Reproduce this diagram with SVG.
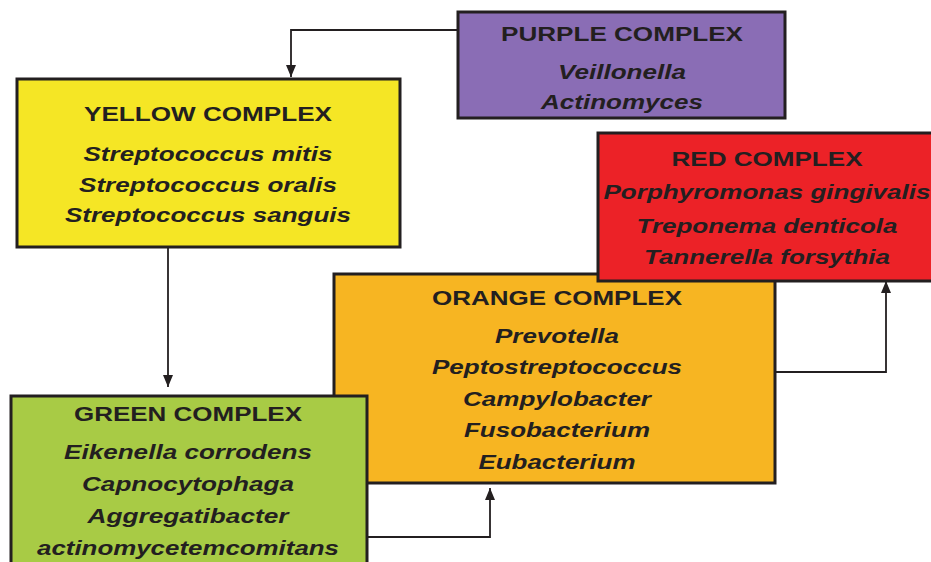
<svg xmlns="http://www.w3.org/2000/svg" width="931" height="562" viewBox="0 0 931 562">
<style>
.box{stroke:#231f20;stroke-width:3}
.t{font-family:"Liberation Sans",Arial,sans-serif;font-weight:bold;font-size:21px;text-anchor:middle;fill:#231f20}
.i{font-style:italic}
.c{fill:none;stroke:#231f20;stroke-width:1.8}
</style>
<defs>
<marker id="ah" viewBox="0 0 12 10" refX="12" refY="5" markerWidth="12" markerHeight="10" orient="auto" markerUnits="userSpaceOnUse">
<path d="M0,0 L12,5 L0,10 z" fill="#231f20"/>
</marker>
</defs>
<rect width="931" height="562" fill="#ffffff"/>
<g id="connectors">
<path class="c" d="M457,30 H291 V77" marker-end="url(#ah)"/>
<path class="c" d="M168,247 V387" marker-end="url(#ah)"/>
<path class="c" d="M367,537 H490 V488" marker-end="url(#ah)"/>
<path class="c" d="M775,372 H886 V281" marker-end="url(#ah)"/>
</g>
<g id="purple">
<rect class="box" x="458" y="12" width="327" height="106" fill="#8a6db5"/>
<text class="t" x="622" y="41" textLength="242" lengthAdjust="spacingAndGlyphs">PURPLE COMPLEX</text>
<text class="t i" x="622" y="79" textLength="128" lengthAdjust="spacingAndGlyphs">Veillonella</text>
<text class="t i" x="622" y="109" textLength="162" lengthAdjust="spacingAndGlyphs">Actinomyces</text>
</g>
<g id="yellow">
<rect class="box" x="17" y="79" width="383" height="168" fill="#f5e625"/>
<text class="t" x="208" y="121" textLength="248" lengthAdjust="spacingAndGlyphs">YELLOW COMPLEX</text>
<text class="t i" x="208" y="161" textLength="249" lengthAdjust="spacingAndGlyphs">Streptococcus mitis</text>
<text class="t i" x="208" y="192" textLength="258" lengthAdjust="spacingAndGlyphs">Streptococcus oralis</text>
<text class="t i" x="208" y="222" textLength="286" lengthAdjust="spacingAndGlyphs">Streptococcus sanguis</text>
</g>
<g id="orange">
<rect class="box" x="334" y="274" width="441" height="209" fill="#f7b522"/>
<text class="t" x="557" y="305" textLength="250" lengthAdjust="spacingAndGlyphs">ORANGE COMPLEX</text>
<text class="t i" x="557" y="343" textLength="124" lengthAdjust="spacingAndGlyphs">Prevotella</text>
<text class="t i" x="557" y="374" textLength="250" lengthAdjust="spacingAndGlyphs">Peptostreptococcus</text>
<text class="t i" x="557" y="406" textLength="188" lengthAdjust="spacingAndGlyphs">Campylobacter</text>
<text class="t i" x="557" y="437" textLength="186" lengthAdjust="spacingAndGlyphs">Fusobacterium</text>
<text class="t i" x="557" y="469" textLength="157" lengthAdjust="spacingAndGlyphs">Eubacterium</text>
</g>
<g id="red">
<rect class="box" x="598" y="133" width="340" height="148" fill="#ec2227"/>
<text class="t" x="767" y="166" textLength="191" lengthAdjust="spacingAndGlyphs">RED COMPLEX</text>
<text class="t i" x="767" y="199" textLength="327" lengthAdjust="spacingAndGlyphs">Porphyromonas gingivalis</text>
<text class="t i" x="767" y="233" textLength="261" lengthAdjust="spacingAndGlyphs">Treponema denticola</text>
<text class="t i" x="767" y="264" textLength="246" lengthAdjust="spacingAndGlyphs">Tannerella forsythia</text>
</g>
<g id="green">
<rect class="box" x="11" y="396" width="356" height="180" fill="#a8cb45"/>
<text class="t" x="188" y="421" textLength="228" lengthAdjust="spacingAndGlyphs">GREEN COMPLEX</text>
<text class="t i" x="188" y="459" textLength="248" lengthAdjust="spacingAndGlyphs">Eikenella corrodens</text>
<text class="t i" x="188" y="491" textLength="212" lengthAdjust="spacingAndGlyphs">Capnocytophaga</text>
<text class="t i" x="188" y="523" textLength="201" lengthAdjust="spacingAndGlyphs">Aggregatibacter</text>
<text class="t i" x="188" y="555" textLength="302" lengthAdjust="spacingAndGlyphs">actinomycetemcomitans</text>
</g>
</svg>
